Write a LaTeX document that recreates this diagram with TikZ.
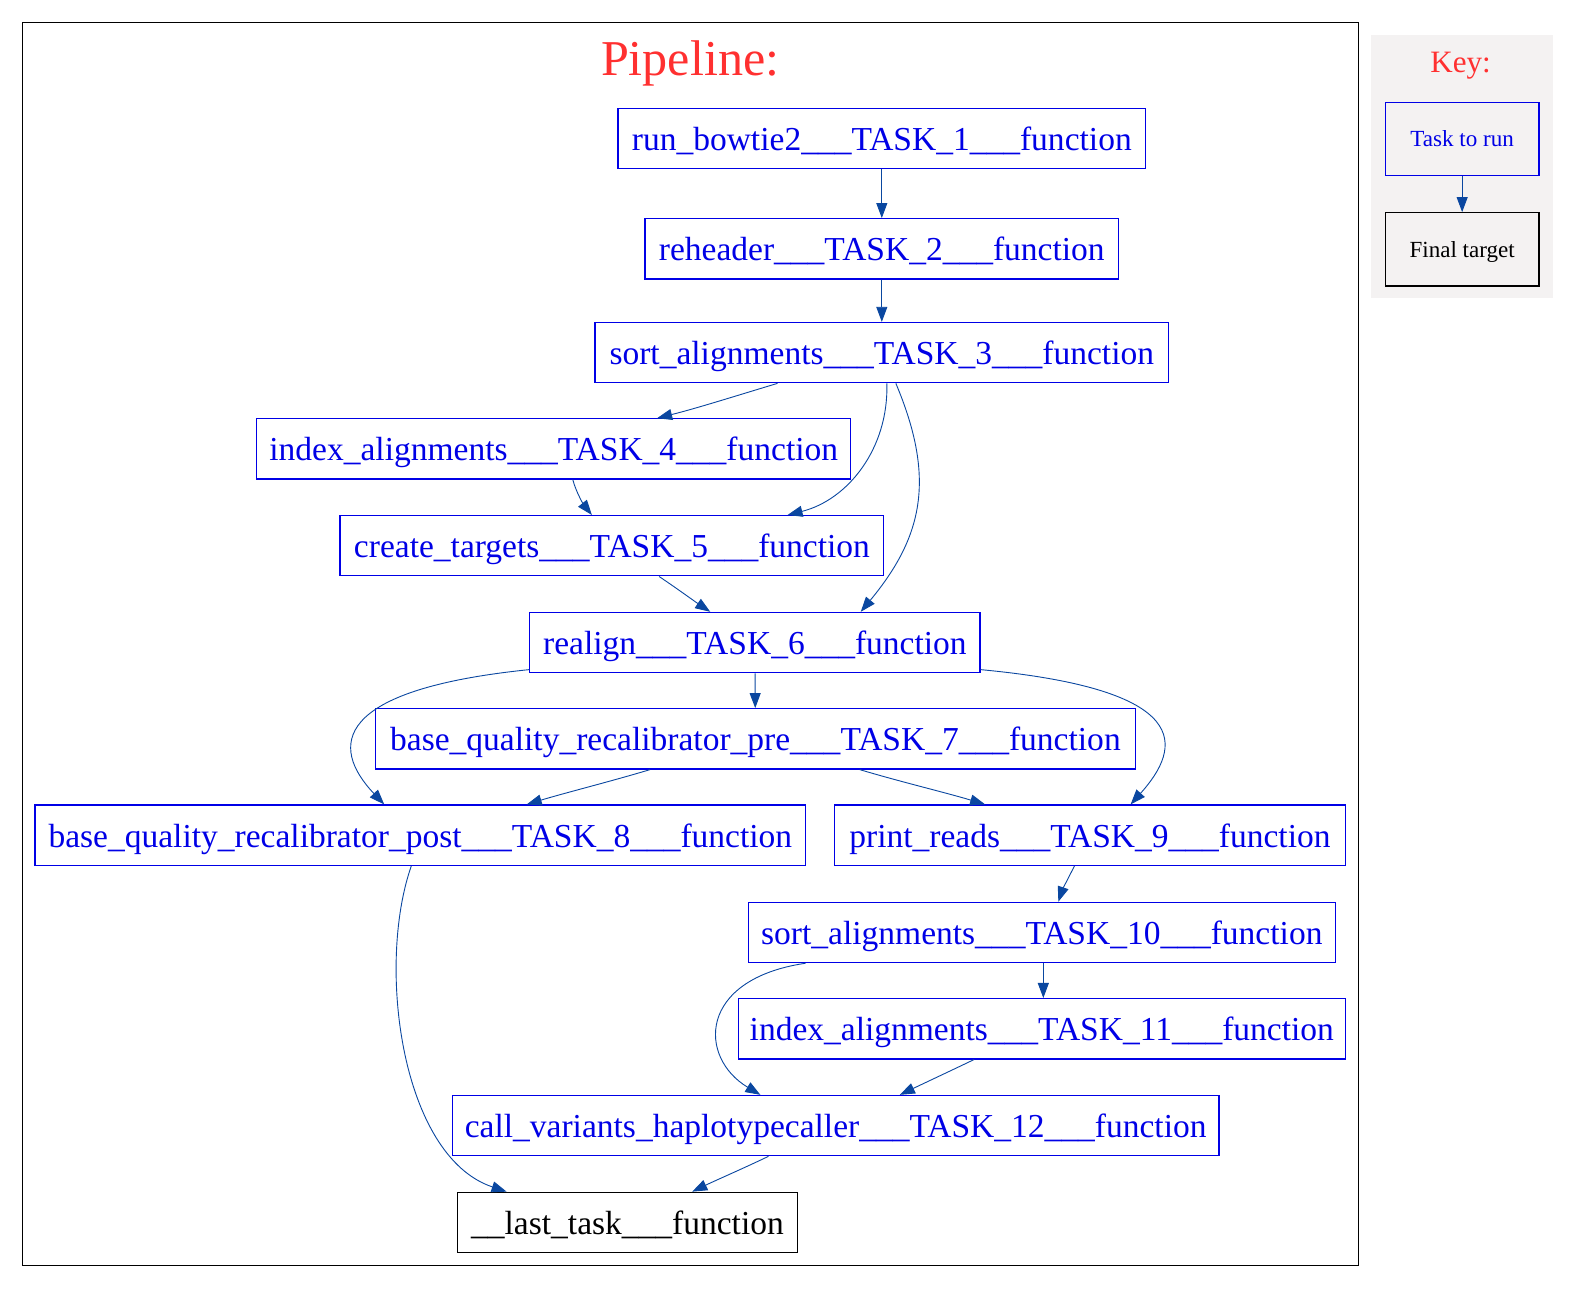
\documentclass[tikz,border=0pt]{standalone}
\usepackage{fontspec}
\setmainfont{Liberation Serif}
\usetikzlibrary{arrows.meta}
\definecolor{edgeblue}{HTML}{0A47A0}
\definecolor{taskblue}{HTML}{0000E6}
\definecolor{titlered}{HTML}{FF3030}
\definecolor{keygray}{HTML}{F4F2F2}
\tikzset{
  task/.style={draw=taskblue, line width=1.3bp, text=taskblue, inner sep=0pt,
    minimum height=60bp, text height=26bp, text depth=2bp, font=\fontsize{33.4bp}{40bp}\selectfont},
  final/.style={draw=black, line width=1.3bp, text=black, inner sep=0pt,
    minimum height=60bp, text height=26bp, text depth=2bp, font=\fontsize{33.4bp}{40bp}\selectfont},
  keytask/.style={draw=taskblue, line width=1.2bp, text=taskblue, inner sep=0pt,
    minimum width=153bp, minimum height=73bp, text height=18bp, text depth=2bp, font=\fontsize{23bp}{28bp}\selectfont},
  keyfinal/.style={draw=black, line width=1.2bp, text=black, inner sep=0pt,
    minimum width=153bp, minimum height=73bp, text height=18bp, text depth=2bp, font=\fontsize{23bp}{28bp}\selectfont},
  edge/.style={draw=edgeblue, line width=0.9bp, -{Triangle[length=15bp,width=11bp]}},
}
\begin{document}
\begin{tikzpicture}[x=1bp,y=-1bp]
\useasboundingbox (0,0) rectangle (1568,1296);
% frames
\draw[line width=1bp] (22,22) rectangle (1354,1261);
\fill[keygray] (1367,35) rectangle (1548,297);
\node[text=titlered, anchor=base, inner sep=0pt, font=\fontsize{50bp}{60bp}\selectfont] (title) at (688,75) {Pipeline:};
\node[text=titlered, anchor=base, inner sep=0pt, font=\fontsize{31bp}{37bp}\selectfont] (keytitle) at (1456,72) {Key:};
% key
\node[keytask] (ktask) at (1457.5,138.5) {Task to run};
\node[keyfinal] (kfinal) at (1457.5,248.5) {Final target};
\draw[edge] (ktask) -- (kfinal);
% nodes
\node[task, minimum width=526bp] (n1) at (879,138) {run\_bowtie2\_\_\_TASK\_1\_\_\_function};
\node[task, minimum width=472bp] (n2) at (879,248) {reheader\_\_\_TASK\_2\_\_\_function};
\node[task, minimum width=572bp] (n3) at (879,351.5) {sort\_alignments\_\_\_TASK\_3\_\_\_function};
\node[task, minimum width=592bp] (n4) at (552,447.5) {index\_alignments\_\_\_TASK\_4\_\_\_function};
\node[task, minimum width=542bp] (n5) at (610,544) {create\_targets\_\_\_TASK\_5\_\_\_function};
\node[task, minimum width=449bp] (n6) at (752.5,640.5) {realign\_\_\_TASK\_6\_\_\_function};
\node[task, minimum width=758bp] (n7) at (753,736.5) {base\_quality\_recalibrator\_pre\_\_\_TASK\_7\_\_\_function};
\node[task, minimum width=768bp] (n8) at (419,832.5) {base\_quality\_recalibrator\_post\_\_\_TASK\_8\_\_\_function};
\node[task, minimum width=509bp] (n9) at (1086.5,832.5) {print\_reads\_\_\_TASK\_9\_\_\_function};
\node[task, minimum width=585bp] (n10) at (1038.5,929.5) {sort\_alignments\_\_\_TASK\_10\_\_\_function};
\node[task, minimum width=605bp] (n11) at (1038.5,1025.5) {index\_alignments\_\_\_TASK\_11\_\_\_function};
\node[task, minimum width=764bp] (n12) at (833,1122) {call\_variants\_haplotypecaller\_\_\_TASK\_12\_\_\_function};
\node[final, minimum width=339bp] (last) at (625.5,1218.5) {\_\_last\_task\_\_\_function};
% edges
\draw[edge] (n1) -- (n2);
\draw[edge] (n2) -- (n3);
\draw[edge] ([xshift=-104bp]n3.south) .. controls +(-40,12) and +(40,-10) .. ([xshift=103bp]n4.north);
\draw[edge] ([xshift=5bp]n3.south) .. controls +(2,65) and +(60,-15) .. ([xshift=175bp]n5.north);
\draw[edge] ([xshift=14bp]n3.south) .. controls +(40,95) and +(62,-75) .. ([xshift=105.5bp]n6.north);
\draw[edge] ([xshift=19bp]n4.south) .. controls +(3,12) and +(-8,-10) .. ([xshift=-20bp]n5.north);
\draw[edge] ([xshift=47bp]n5.south) .. controls +(15,10) and +(-15,-10) .. ([xshift=-44.5bp]n6.north);
\draw[edge] (n6) -- (n7);
\draw[edge] ([yshift=-27bp]n6.west) .. controls +(-195,20) and +(-55,-58) .. ([xshift=-36bp]n8.north);
\draw[edge] ([yshift=-27bp]n6.east) .. controls +(212,20) and +(52,-58) .. ([xshift=40.5bp]n9.north);
\draw[edge] ([xshift=-105bp]n7.south) .. controls +(-40,12) and +(40,-12) .. ([xshift=106bp]n8.north);
\draw[edge] ([xshift=104bp]n7.south) .. controls +(40,12) and +(-40,-12) .. ([xshift=-104.5bp]n9.north);
\draw[edge] ([xshift=-15.5bp]n9.south) .. controls +(-6,12) and +(4,-12) .. ([xshift=16.5bp]n10.north);
\draw[edge] ([xshift=1.5bp]n10.south) -- ([xshift=1.5bp]n11.north);
\draw[edge] ([xshift=-235.5bp]n10.south) .. controls +(-108,16) and +(-62,-37) .. ([xshift=-75bp]n12.north);
\draw[edge] ([xshift=-67.5bp]n11.south) .. controls +(-25,12) and +(25,-12) .. ([xshift=64bp]n12.north);
\draw[edge] ([xshift=-9bp]n8.south) .. controls +(-35,100) and +(-105,-35) .. ([xshift=-120.5bp]last.north);
\draw[edge] ([xshift=-67bp]n12.south) .. controls +(-25,12) and +(25,-12) .. ([xshift=64.5bp]last.north);
\end{tikzpicture}
\end{document}
